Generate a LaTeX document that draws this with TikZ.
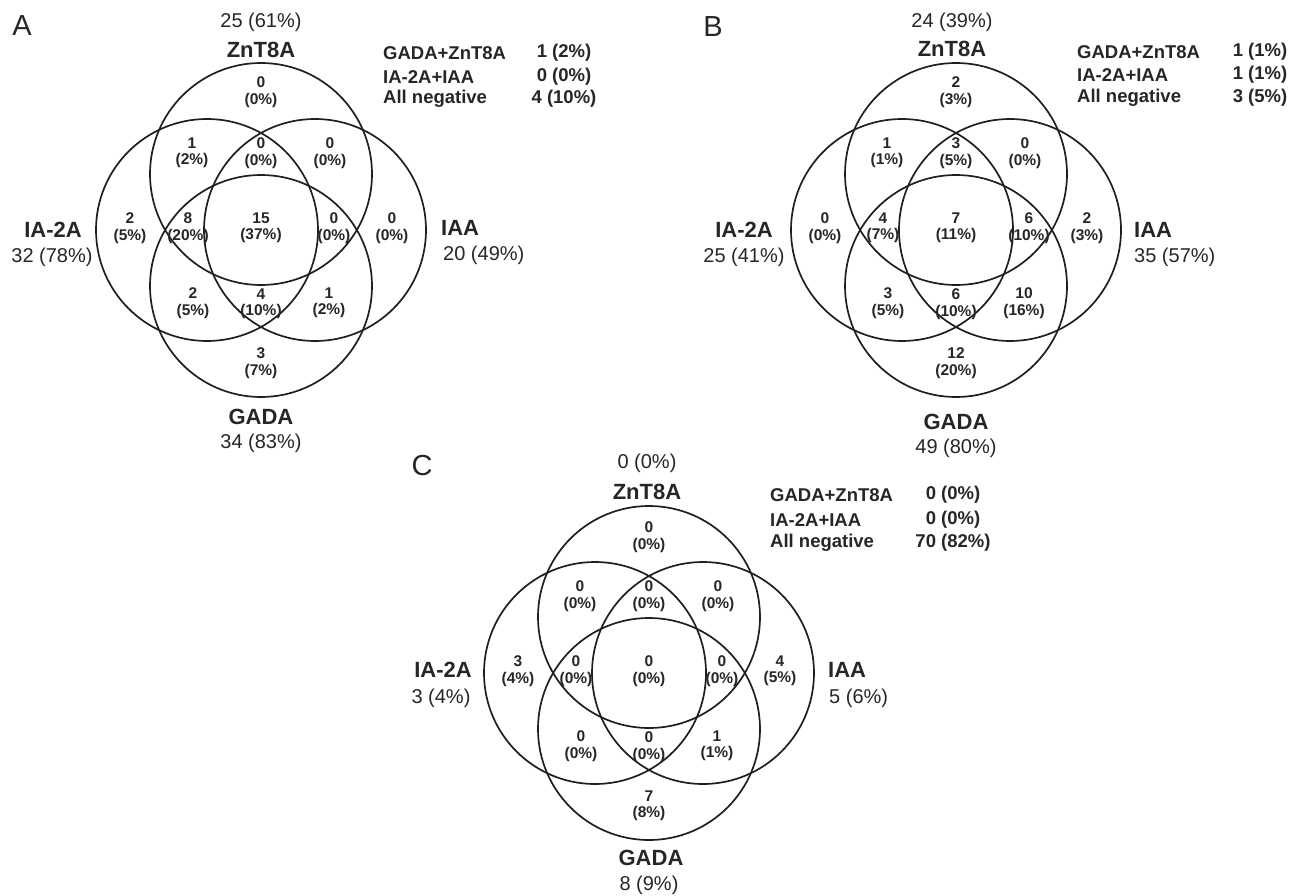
\documentclass[tikz,border=0pt]{standalone}
\usepackage{fontspec}
\setmainfont{Liberation Sans}
\begin{document}
\begin{tikzpicture}[x=1pt,y=-1pt,
  every node/.style={text=black!85},
  venn/.style={circle,draw=black!88,line width=1.7pt,minimum size=222pt,inner sep=0pt},
  lab/.style={font=\fontsize{22}{26}\selectfont\bfseries,inner sep=0pt},
  cnt/.style={font=\fontsize{20}{24}\selectfont,inner sep=0pt},
  tabl/.style={font=\fontsize{18.5}{22}\selectfont\bfseries,anchor=west,inner sep=0pt},
  tabv/.style={font=\fontsize{18.5}{22}\selectfont\bfseries,inner sep=0pt},
  reg/.style={font=\fontsize{15.5}{16.5}\selectfont\bfseries,align=center,inner sep=0pt},
  letter/.style={font=\fontsize{29}{34}\selectfont,inner sep=0pt}]
\useasboundingbox (0,0) rectangle (1292,896);

\newcommand\vennsets{%
  \node[venn] (zn) at (0,-56) {};
  \node[venn] (ia) at (-54,0) {};
  \node[venn] (iaa) at (54,0) {};
  \node[venn] (gada) at (0,56) {};
}
\newcommand\vennregions[1]{%
  \foreach \dx/\dy/\n/\p [count=\i] in {#1}
    {\node[reg] (r\i) at (\dx,\dy) {\n\\(\p\%)};}
}

% ---------------- Panel A ----------------
\node[letter] (Aletter) at (22,26) {A};
\begin{scope}[shift={(261,230)},name prefix=A-]
  \vennsets
  \vennregions{0/-138/0/0, -69/-77/1/2, 0/-77/0/0, 69/-77/0/0,
    -131/-2/2/5, -73/-2/8/20, 0/-2/15/37, 73/-2/0/0, 131/-2/0/0,
    -68/73/2/5, 0/74/4/10, 68/73/1/2, 0/133/3/7}
  \node[cnt] (zncount) at (0,-208) {25 (61\%)};
  \node[lab] (znlab) at (0,-180) {ZnT8A};
  \node[lab] (ialab) at (-208,0) {IA-2A};
  \node[cnt] (iacount) at (-209,27) {32 (78\%)};
  \node[lab,anchor=west] (iaalab) at (180,-2) {IAA};
  \node[cnt,anchor=west] (iaacount) at (182,25) {20 (49\%)};
  \node[lab] (gadalab) at (0,187) {GADA};
  \node[cnt] (gadacount) at (0,213) {34 (83\%)};
  \node[tabl] (t1) at (122,-177) {GADA+ZnT8A};
  \node[tabl] (t2) at (122,-153) {IA-2A+IAA};
  \node[tabl] (t3) at (122,-131) {All negative};
  \node[tabv] (v1) at (303,-177) {1 (2\%)};
  \node[tabv] (v2) at (303,-153) {0 (0\%)};
  \node[tabv] (v3) at (303,-131) {4 (10\%)};
\end{scope}

% ---------------- Panel B ----------------
\node[letter] (Bletter) at (713,27) {B};
\begin{scope}[shift={(956,230)},name prefix=B-]
  \vennsets
  \vennregions{0/-138/2/3, -69/-77/1/1, 0/-77/3/5, 69/-77/0/0,
    -131/-2/0/0, -73/-2/4/7, 0/-2/7/11, 73/-2/6/10, 131/-2/2/3,
    -68/73/3/5, 0/74/6/10, 68/73/10/16, 0/133/12/20}
  \node[cnt] (zncount) at (-4,-208) {24 (39\%)};
  \node[lab] (znlab) at (-4,-181) {ZnT8A};
  \node[lab] (ialab) at (-212,0) {IA-2A};
  \node[cnt] (iacount) at (-212,27) {25 (41\%)};
  \node[lab,anchor=west] (iaalab) at (178,0) {IAA};
  \node[cnt,anchor=west] (iaacount) at (178,27) {35 (57\%)};
  \node[lab] (gadalab) at (0,192) {GADA};
  \node[cnt] (gadacount) at (0,218) {49 (80\%)};
  \node[tabl] (t1) at (121,-178) {GADA+ZnT8A};
  \node[tabl] (t2) at (121,-155) {IA-2A+IAA};
  \node[tabl] (t3) at (121,-132) {All negative};
  \node[tabv] (v1) at (304,-178) {1 (1\%)};
  \node[tabv] (v2) at (304,-155) {1 (1\%)};
  \node[tabv] (v3) at (304,-132) {3 (5\%)};
\end{scope}

% ---------------- Panel C ----------------
\node[letter] (Cletter) at (422,466) {C};
\begin{scope}[shift={(649,673)},name prefix=C-]
  \vennsets
  \vennregions{0/-136/0/0, -69/-77/0/0, 0/-77/0/0, 69/-77/0/0,
    -131/-2/3/4, -73/-2/0/0, 0/-2/0/0, 73/-2/0/0, 131/-2/4/5,
    -68/73/0/0, 0/74/0/0, 68/73/1/1, 0/133/7/8}
  \node[cnt] (zncount) at (-2,-210) {0 (0\%)};
  \node[lab] (znlab) at (-2,-181) {ZnT8A};
  \node[lab] (ialab) at (-206,-3) {IA-2A};
  \node[cnt] (iacount) at (-208,25) {3 (4\%)};
  \node[lab,anchor=west] (iaalab) at (179,-3) {IAA};
  \node[cnt,anchor=west] (iaacount) at (180,25) {5 (6\%)};
  \node[lab] (gadalab) at (2,185) {GADA};
  \node[cnt] (gadacount) at (0,212) {8 (9\%)};
  \node[tabl] (t1) at (121,-178) {GADA+ZnT8A};
  \node[tabl] (t2) at (121,-153) {IA-2A+IAA};
  \node[tabl] (t3) at (121,-130) {All negative};
  \node[tabv] (v1) at (304,-178) {0 (0\%)};
  \node[tabv] (v2) at (304,-153) {0 (0\%)};
  \node[tabv] (v3) at (304,-130) {70 (82\%)};
\end{scope}
\end{tikzpicture}
\end{document}
